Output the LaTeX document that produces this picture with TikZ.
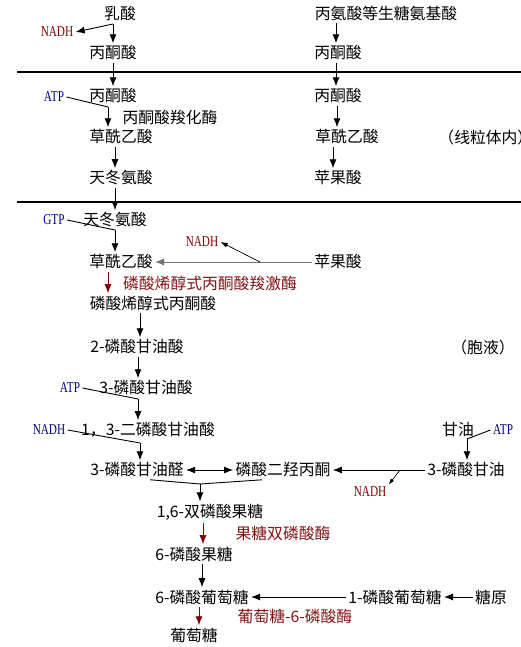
\documentclass[tikz,border=0pt]{standalone}
\usepackage{fontspec}
\usepackage{tikz}
\usepackage{xcolor}
\usetikzlibrary{arrows.meta}
\setmainfont{Noto Sans CJK SC}
\newfontfamily\latinfont[FakeStretch=0.75]{Liberation Serif}
\definecolor{maroon}{RGB}{128,0,0}
\definecolor{enzred}{RGB}{130,20,20}
\definecolor{navyblue}{RGB}{0,0,128}
\tikzset{
  txt/.style={inner sep=2pt, font=\fontsize{15.8}{17}\selectfont},
  enz/.style={txt, text=enzred},
  nadh/.style={inner sep=2pt, text=maroon, font=\latinfont\fontsize{15}{16}\selectfont},
  nadhb/.style={nadh, text=navyblue},
  atp/.style={nadh, text=navyblue},
  redarr/.style={->, draw=maroon},
  membrane/.style={line width=1.2pt},
}

\begin{document}
\begin{tikzpicture}[x=1pt, y=-1pt, line width=0.9pt, >={Latex[length=9pt,width=7pt]}]
\useasboundingbox (0,0) rectangle (521,647);
% top: lactate and amino acids
\node[txt] (lac) at (120,13) {乳酸};
\node[nadh] (nadh1) at (57,32) {NADH};
\node[txt] (pyr1) at (113,53) {丙酮酸};
\node[txt] (ala) at (386,13) {丙氨酸等生糖氨基酸};
\node[txt] (pyr2) at (338,53) {丙酮酸};
\coordinate (b1) at (113,24);
\draw [->](b1)--(nadh1.east);
\draw [->](b1)--(pyr1.north -| b1);
\draw [->](ala.south -| 336,0)--(pyr2.north -| 336,0);
% mitochondrial membrane
\coordinate (mL1) at (17,72);
\coordinate (mR1) at (521,72);
\draw [membrane](mL1)--(mR1);
% mitochondria
\node[txt] (pyr3) at (113,96) {丙酮酸};
\node[atp] (atp1) at (54,97) {ATP};
\node[txt] (pc) at (170,117) {丙酮酸羧化酶};
\node[txt] (oaa1) at (121,137) {草酰乙酸};
\node[txt] (asp1) at (121,178) {天冬氨酸};
\node[txt] (pyr4) at (338,96) {丙酮酸};
\node[txt] (oaa2) at (347,137) {草酰乙酸};
\node[txt] (mal1) at (338,178) {苹果酸};
\node[txt, anchor=west] (mito) at (436,137) {（线粒体内）};
\draw [->](pyr1.south)--(pyr3.north);
\draw [->](pyr2.south -| 336,0)--(pyr4.north -| 336,0);
\coordinate (j1) at (108,107);
\draw (atp1.east)--(j1);
\draw [->](j1)--(oaa1.north -| j1);
\draw [->](oaa1.south -| 115,0)--(asp1.north -| 115,0);
\draw [->](pyr4.south -| 337,0)--(oaa2.north -| 337,0);
\draw [->](oaa2.south -| 333,0)--(mal1.north -| 333,0);
% second membrane
\coordinate (mL2) at (17,202);
\coordinate (mR2) at (521,202);
\draw [membrane, line width=2pt](mL2)--(mR2);
% cytosol
\node[atp] (gtp) at (54,220) {GTP};
\node[txt] (asp2) at (115,220) {天冬氨酸};
\node[txt] (oaa3) at (121,262) {草酰乙酸};
\node[txt] (mal2) at (338,262) {苹果酸};
\node[nadh] (nadh2) at (202,242) {NADH};
\node[enz] (pepck) at (210,283) {磷酸烯醇式丙酮酸羧激酶};
\node[txt] (pep) at (153,303) {磷酸烯醇式丙酮酸};
\node[txt] (pg2) at (137,347) {2-磷酸甘油酸};
\node[txt] (cyto) at (483,347) {（胞液）};
\node[atp] (atp2) at (70,388) {ATP};
\node[txt] (pg3) at (146,388) {3-磷酸甘油酸};
\node[nadhb] (nadh3) at (49,430) {NADH};
\node[txt] (bpg) at (148,430) {1，3-二磷酸甘油酸};
\node[txt] (gap) at (137,470) {3-磷酸甘油醛};
\node[txt] (dhap) at (283,470) {磷酸二羟丙酮};
\node[txt] (glyc) at (458,430) {甘油};
\node[atp] (atp3) at (503,430) {ATP};
\node[txt] (g3p) at (466,470) {3-磷酸甘油};
\node[nadh] (nadh4) at (370,492) {NADH};
\node[txt] (fbp) at (210,512) {1,6-双磷酸果糖};
\node[enz] (fbpase) at (283,533) {果糖双磷酸酶};
\node[txt] (f6p) at (194,554) {6-磷酸果糖};
\node[txt] (g6p) at (202,597) {6-磷酸葡萄糖};
\node[txt] (g1p) at (395,597) {1-磷酸葡萄糖};
\node[txt] (glycogen) at (491,597) {糖原};
\node[enz] (g6pase) at (295,616) {葡萄糖-6-磷酸酶};
\node[txt] (glc) at (194,635) {葡萄糖};
\draw [->](asp1.south -| 115,0)--(asp2.north -| 115,0);
\coordinate (j2) at (115,230);
\draw (gtp.east)--(j2);
\draw [->](j2)--(oaa3.north -| j2);
\draw [->, draw=black!55](mal2.west)--(oaa3.east);
\coordinate (j3) at (260,262);
\draw [->, line width=0.7pt, >={Latex[length=7pt,width=5pt]}](j3)--(nadh2.east);
\draw [redarr](oaa3.south -| 108,0)--(pep.north -| 108,0);
\draw [->](pep.south -| 140,0)--(pg2.north -| 140,0);
\draw [->](pg2.south -| 138,0)--(pg3.north -| 138,0);
\coordinate (j4) at (138,399);
\draw (atp2.east)--(j4);
\draw [->](j4)--(bpg.north -| j4);
\coordinate (j5) at (140,443);
\draw (nadh3.east)--(j5);
\draw [->](j5)--(gap.north -| j5);
\draw [<->](gap.east)--(dhap.west);
\draw [->](g3p.west)--(dhap.east);
\coordinate (j6) at (400,470);
\draw [->, line width=0.7pt, >={Latex[length=6pt,width=4pt]}](j6)--(nadh4.north east);
\coordinate (j7) at (467,439);
\draw (atp3.west)--(j7);
\draw [->](j7)--(g3p.north -| j7);
\coordinate (j8) at (200,484);
\draw (gap.south -| 150,0)--(j8);
\draw (dhap.south -| 262,0)--(j8);
\draw [->](j8)--(fbp.north -| j8);
\draw [redarr](fbp.south -| 203,0)--(f6p.north -| 203,0);
\draw [->](f6p.south -| 202,0)--(g6p.north -| 202,0);
\draw [->](g1p.west)--(g6p.east);
\draw [->](glycogen.west)--(g1p.east);
\draw [redarr](g6p.south -| 199,0)--(glc.north -| 199,0);
\end{tikzpicture}
\end{document}
